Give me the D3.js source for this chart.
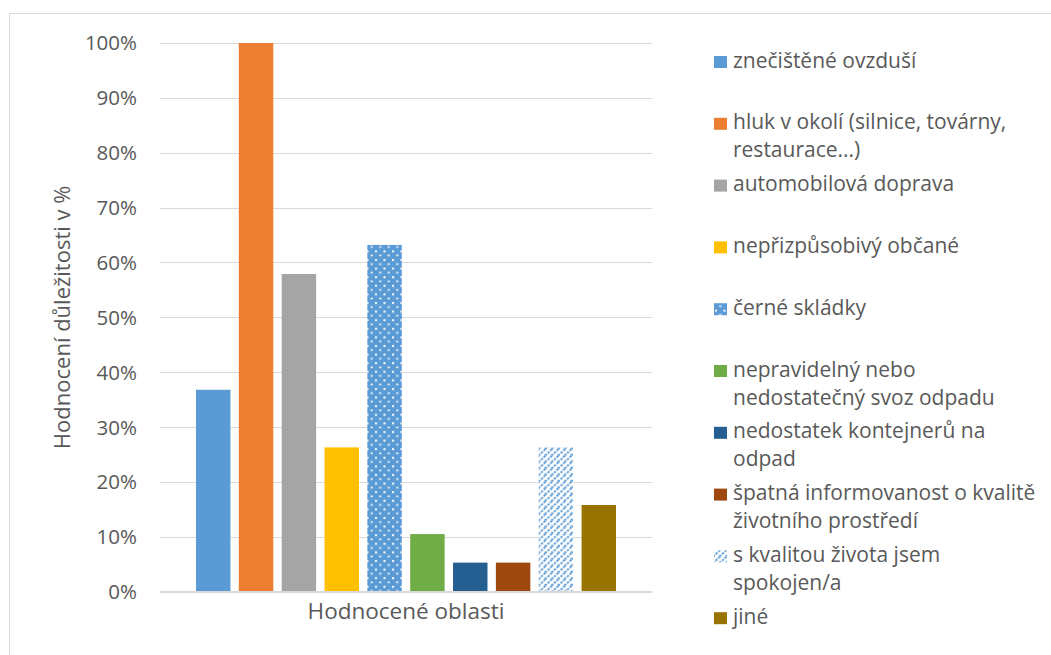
<!DOCTYPE html>
<html><head><meta charset="utf-8">
<script src="https://cdn.jsdelivr.net/npm/d3@7"></script>
<style>body{margin:0;background:#fff}svg{display:block}</style>
</head><body>
<svg id="c" width="1051" height="655"></svg>
<script>
const categories = [
  "znečištěné ovzduší",
  "hluk v okolí (silnice, továrny,\nrestaurace...)",
  "automobilová doprava",
  "nepřizpůsobivý občané",
  "černé skládky",
  "nepravidelný nebo\nnedostatečný svoz odpadu",
  "nedostatek kontejnerů na\nodpad",
  "špatná informovanost o kvalitě\nživotního prostředí",
  "s kvalitou života jsem\nspokojen/a",
  "jiné"
];
const values = [36.8, 100, 57.9, 26.3, 63.2, 10.5, 5.3, 5.3, 26.3, 15.8];
const fills = ["#5B9BD5","#ED7D31","#A5A5A5","#FFC000","url(#dots)","#70AD47","#255E91","#9E480E","url(#hatch)","#997300"];
const yTicks = [0,10,20,30,40,50,60,70,80,90,100];
const xTitle = "Hodnocené oblasti";
const yTitle = "Hodnocení důležitosti v %";

const svg = d3.select("#c");
const font = "'Open Sans', sans-serif";
const textColor = "#595959";

const defs = svg.append("defs");
const dots = defs.append("pattern").attr("id","dots").attr("patternUnits","userSpaceOnUse")
  .attr("width",8.5).attr("height",8.6);
dots.append("rect").attr("width",8.5).attr("height",8.6).attr("fill","#5B9BD5");
dots.append("rect").attr("x",1).attr("y",1).attr("width",2).attr("height",2).attr("fill","#fff");
dots.append("rect").attr("x",5.25).attr("y",5.3).attr("width",2).attr("height",1.6).attr("fill","#fff");
const hatch = defs.append("pattern").attr("id","hatch").attr("patternUnits","userSpaceOnUse")
  .attr("width",6.5).attr("height",6.5);
hatch.append("rect").attr("width",6.5).attr("height",6.5).attr("fill","#fff");
hatch.append("path").attr("d","M-1,7.5 L7.5,-1 M-4,4 L4,-4 M2.5,10 L10,2.5").attr("stroke","#5B9BD5")
  .attr("stroke-width",1.9).attr("stroke-dasharray","2.5,1.2");

// chart border
svg.append("rect").attr("x",9.5).attr("y",13.5).attr("width",1100).attr("height",700)
  .attr("fill","none").attr("stroke","#d9d9d9").attr("stroke-width",1);

const plotL = 160, plotR = 652, plotT = 43, plotB = 591.7;
const y = d3.scaleLinear().domain([0,100]).range([plotB, plotT]);
const x = d3.scaleBand().domain(d3.range(categories.length)).range([plotL, plotR])
  .paddingInner(0.196).paddingOuter(0.84);

// gridlines
svg.append("g").selectAll("line").data(yTicks).join("line")
  .attr("x1",plotL).attr("x2",plotR)
  .attr("y1",d=>Math.round(y(d))+0.5).attr("y2",d=>Math.round(y(d))+0.5)
  .attr("stroke","#d9d9d9").attr("stroke-width",1);

// y axis via d3 axis
const yAxis = svg.append("g").attr("transform",`translate(${plotL},0)`)
  .call(d3.axisLeft(y).tickValues(yTicks).tickFormat(d=>d+"%").tickSize(0).tickPadding(23));
yAxis.select(".domain").remove();
yAxis.selectAll("text").attr("font-family",font).attr("font-size",20.5).attr("fill",textColor)
  .attr("dy","0.34em");

// bars
svg.append("g").selectAll("rect").data(values).join("rect")
  .attr("x",(d,i)=>x(i)).attr("width",x.bandwidth())
  .attr("y",d=>y(d)).attr("height",d=>plotB - y(d))
  .attr("fill",(d,i)=>fills[i]);

// baseline
svg.append("line").attr("x1",plotL).attr("x2",plotR).attr("y1",plotB).attr("y2",plotB)
  .attr("stroke","#d9d9d9").attr("stroke-width",1.3);

// axis titles
svg.append("text").attr("x",(plotL+plotR)/2).attr("y",619).attr("text-anchor","middle")
  .attr("font-family",font).attr("font-size",22.5).attr("fill",textColor).text(xTitle);
svg.append("text").attr("transform",`translate(70,${(plotT+plotB)/2}) rotate(-90)`)
  .attr("text-anchor","middle").attr("font-family",font).attr("font-size",22)
  .attr("fill",textColor).text(yTitle);

// legend
const lg = svg.append("g");
const items = lg.selectAll("g").data(categories).join("g")
  .attr("transform",(d,i)=>`translate(714,${61.5 + i*61.8})`);
items.append("rect").attr("x",0).attr("y",-5.5).attr("width",13).attr("height",12)
  .attr("fill",(d,i)=>fills[i]);
items.each(function(d){
  const t = d3.select(this).append("text").attr("font-family",font).attr("font-size",21)
    .attr("fill",textColor);
  d.split("\n").forEach((line,k)=>{
    t.append("tspan").attr("x",19).attr("y",6 + k*28).text(line);
  });
});
</script>
</body></html>
